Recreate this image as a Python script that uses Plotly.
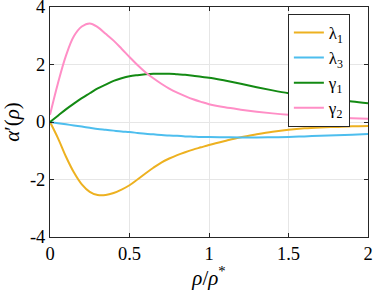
import plotly.graph_objects as go

x = [0, 0.05, 0.1, 0.15, 0.2, 0.25, 0.3, 0.35, 0.4, 0.45, 0.5, 0.55, 0.6, 0.65,
     0.7, 0.75, 0.8, 0.85, 0.9, 0.95, 1.0, 1.1, 1.2, 1.3, 1.4, 1.5, 1.6, 1.7,
     1.8, 1.9, 2.0]

lambda1 = [0, -0.56, -1.2, -1.75, -2.17, -2.43, -2.54, -2.54, -2.47, -2.35, -2.2,
           -2.0, -1.79, -1.59, -1.41, -1.27, -1.15, -1.05, -0.96, -0.88, -0.8,
           -0.66, -0.53, -0.43, -0.34, -0.27, -0.22, -0.19, -0.17, -0.15, -0.14]
lambda3 = [0, -0.04, -0.08, -0.12, -0.16, -0.2, -0.24, -0.27, -0.3, -0.33, -0.35,
           -0.38, -0.41, -0.43, -0.45, -0.47, -0.48, -0.5, -0.51, -0.52, -0.52,
           -0.53, -0.54, -0.54, -0.53, -0.52, -0.5, -0.48, -0.46, -0.44, -0.42]
gamma1 = [0, 0.22, 0.44, 0.64, 0.83, 1.0, 1.17, 1.3, 1.43, 1.52, 1.59, 1.63, 1.66,
          1.68, 1.68, 1.68, 1.66, 1.64, 1.61, 1.57, 1.54, 1.44, 1.33, 1.21, 1.1,
          1.0, 0.92, 0.85, 0.78, 0.71, 0.65]
gamma2 = [0.25, 1.35, 2.3, 2.98, 3.32, 3.43, 3.3, 3.07, 2.83, 2.55, 2.26, 1.98,
          1.73, 1.52, 1.33, 1.16, 1.02, 0.9, 0.79, 0.7, 0.62, 0.51, 0.43, 0.36,
          0.3, 0.25, 0.21, 0.18, 0.15, 0.13, 0.11]

names = ["λ<sub>1</sub>", "λ<sub>3</sub>", "γ<sub>1</sub>", "γ<sub>2</sub>"]
colors = ["#EDB120", "#4DBEEE", "#138A13", "#FF8EC6"]

xticks = [0, 0.5, 1, 1.5, 2]
xticktext = ["0", "0.5", "1", "1.5", "2"]
yticks = [-4, -2, 0, 2, 4]
yticktext = ["-4", "-2", "0", "2", "4"]

FAM = "Liberation Serif, DejaVu Serif, serif"

fig = go.Figure()
for ys, n, c in zip([lambda1, lambda3, gamma1, gamma2], names, colors):
    fig.add_trace(go.Scatter(x=x, y=ys, mode="lines", name=n,
                             line=dict(color=c, width=2, shape="spline", smoothing=1.0)))

font = dict(family=FAM, size=18.5, color="black")
axis_common = dict(showline=True, linecolor="#262626", linewidth=1, mirror="ticks",
                   ticks="inside", ticklen=4, tickcolor="#262626",
                   showgrid=True, gridcolor="#E6E6E6", gridwidth=1,
                   zeroline=False, tickfont=font, ticklabeloverflow="allow",
                   automargin=False)

fig.update_layout(
    width=374, height=290,
    margin=dict(l=50, r=6, t=7, b=53),
    paper_bgcolor="white", plot_bgcolor="white",
    font=font,
    showlegend=True,
    legend=dict(x=0.943, y=0.97, xanchor="right", yanchor="top",
                bgcolor="white", bordercolor="#262626", borderwidth=1,
                font=dict(family=FAM, size=17, color="black"),
                itemwidth=30, tracegroupgap=0),
)
fig.update_xaxes(range=[0, 2], tickvals=xticks, ticktext=xticktext,
                 title=dict(text="<i>ρ</i>/<i>ρ</i><sup>*</sup>", standoff=4,
                            font=dict(family=FAM, size=21)),
                 **axis_common)
fig.update_yaxes(range=[-4, 4], tickvals=yticks, ticktext=yticktext,
                 title=dict(text="<i>α</i>′(<i>ρ</i>)", standoff=4,
                            font=dict(family=FAM, size=21)),
                 **axis_common)

post = "document.body.style.margin='0px';document.body.style.padding='0px';"
fig.write_html("out.html", config={"displayModeBar": False}, post_script=post)
